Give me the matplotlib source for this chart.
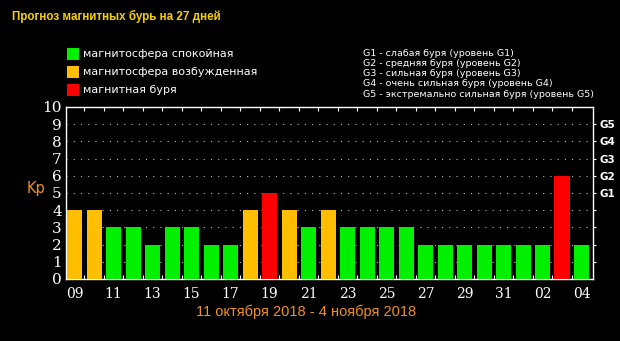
import matplotlib
matplotlib.use("Agg")
import matplotlib.pyplot as plt
from matplotlib.patches import Rectangle

# Daily Kp forecast, 9 Oct 2018 - 4 Nov 2018
days = ["09", "10", "11", "12", "13", "14", "15", "16", "17", "18", "19", "20",
        "21", "22", "23", "24", "25", "26", "27", "28", "29", "30", "31",
        "01", "02", "03", "04"]
kp = [4, 4, 3, 3, 2, 3, 3, 2, 2, 4, 5, 4, 3, 4, 3, 3, 3, 3,
      2, 2, 2, 2, 2, 2, 2, 6, 2]

storm_levels = ["G1", "G2", "G3", "G4", "G5"]
storm_kp = [5, 6, 7, 8, 9]
storm_notes = [
    "G1 - слабая буря (уровень G1)",
    "G2 - средняя буря (уровень G2)",
    "G3 - сильная буря (уровень G3)",
    "G4 - очень сильная буря (уровень G4)",
    "G5 - экстремально сильная буря (уровень G5)",
]
state_labels = ["магнитосфера спокойная", "магнитосфера возбужденная", "магнитная буря"]

GREEN, ORANGE, RED = "#00f000", "#ffbf00", "#ff0000"
state_colors = [GREEN, ORANGE, RED]


def kp_color(v):
    if v >= 5:
        return RED
    if v >= 4:
        return ORANGE
    return GREEN


W, H = 620, 341
fig = plt.figure(figsize=(W / 100, H / 100), dpi=100, facecolor="black")


def fx(px):
    return px / W


def fy(py):
    return 1 - py / H


ax = fig.add_axes([fx(66), fy(279), fx(593) - fx(66), fy(107) - fy(279)])
ax.set_facecolor("black")

x = list(range(len(days)))
ax.bar(x, kp, width=0.77, color=[kp_color(v) for v in kp], zorder=3)

ax.set_xlim(-0.44, len(days) - 0.41)
ax.set_ylim(0, 10)

# dotted horizontal grid
for level in range(1, 10):
    ax.axhline(level, color="#bfbfbf", lw=0.8, ls=(0, (1, 5.5)), zorder=1)

for s in ax.spines.values():
    s.set_color("white")
    s.set_linewidth(1.0)

ax.set_yticks(range(0, 11))
ax.set_yticklabels([str(v) for v in range(0, 11)])
ax.tick_params(axis="y", which="major", length=0, pad=3, colors="white",
               labelsize=11)
for t in ax.get_yticklabels():
    t.set_family("DejaVu Serif")

ax.set_xticks(x[::2])
ax.set_xticklabels(days[::2])
ax.set_xticks([i + 0.5 for i in x[:-1]], minor=True)
ax.tick_params(axis="x", which="major", length=0, pad=6, colors="white",
               labelsize=10)
ax.tick_params(axis="x", which="minor", direction="in", length=3,
               top=True, bottom=True, color="white", width=0.8)
for t in ax.get_xticklabels():
    t.set_family("DejaVu Serif")

# storm scale on the right side
ax2 = ax.twinx()
ax2.set_ylim(0, 10)
ax2.set_yticks(range(1, 10))
ax2.set_yticklabels(["" if v not in storm_kp else storm_levels[storm_kp.index(v)]
                     for v in range(1, 10)])
ax2.tick_params(axis="y", direction="out", length=2.5, width=0.8, colors="white",
                labelsize=7.5, pad=2)
for t in ax2.get_yticklabels():
    t.set_fontweight("bold")
for s in ax2.spines.values():
    s.set_visible(False)

fig.text(fx(36), fy(189), "Kp", color="#f0901e", fontsize=10.5,
         ha="center", va="center")

fig.text(fx(306), fy(312), "11 октября 2018 - 4 ноября 2018", color="#f0901e",
         fontsize=10.5, family="Liberation Sans", ha="center", va="center")

fig.text(fx(12), fy(16), "Прогноз магнитных бурь на 27 дней", color="#f5d000",
         fontsize=8.4, fontweight="bold", family="Liberation Sans",
         ha="left", va="center")

# state legend
for i, (lab, col) in enumerate(zip(state_labels, state_colors)):
    yc = 54 + i * 18
    fig.add_artist(Rectangle((fx(67), fy(yc + 6)), fx(12), fy(yc - 6) - fy(yc + 6),
                             transform=fig.transFigure, facecolor=col,
                             edgecolor="none"))
    fig.text(fx(83), fy(yc), lab, color="white", fontsize=8, ha="left",
             va="center")

# storm level notes
for i, note in enumerate(storm_notes):
    fig.text(fx(363), fy(53.7 + i * 10.1), note, color="white", fontsize=6.8,
             ha="left", va="center")

fig.savefig("out.png", dpi=100, facecolor="black")
